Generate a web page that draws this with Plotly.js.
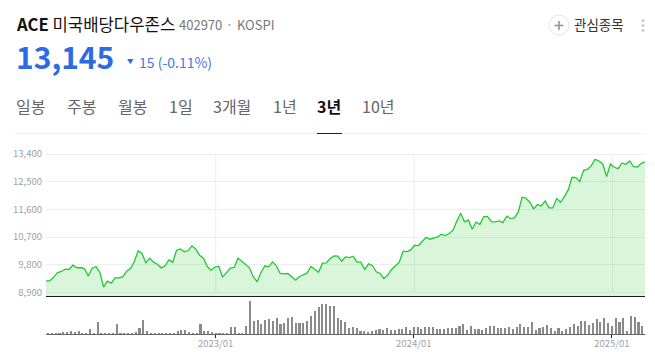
<!DOCTYPE html>
<html>
<head>
<meta charset="utf-8">
<script src="https://cdn.plot.ly/plotly-3.0.1.min.js"></script>
<style>html,body{margin:0;padding:0;background:#fff;overflow:hidden}#c{width:655px;height:352px}</style>
</head>
<body>
<div id="c"></div>
<script>
const prices = [9279,9279,9398,9549,9582,9657,9647,9787,9701,9712,9679,9441,9679,9744,9560,9073,9268,9203,9376,9376,9409,9592,9679,9906,10252,10166,9863,10014,9885,9820,9701,9766,9960,9885,10274,10317,10220,10263,10415,10307,10112,10014,9744,9625,9722,9755,
9398,9528,9690,9712,10014,9917,9798,9701,9398,9257,9549,9766,9733,9895,9766,9517,9506,9517,9409,9300,9419,9484,9528,9744,9636,9560,9852,9863,10004,10090,10079,9917,10058,10036,10079,9885,9885,9647,9831,9776,9571,9517,9354,9463,9647,9755,9885,10242,10231,10285,10436,10426,10555,10696,10631,10664,
10707,10794,10750,10815,10923,11226,11475,11194,11259,10956,11194,11107,11367,11367,11205,11194,11226,11172,11378,11302,11324,11518,11995,11962,11832,11616,11756,11713,11876,11648,11648,11951,11832,12016,12233,12644,12633,12503,12871,12903,13012,13228,13174,13077,12665,13077,12968,12925,13109,13066,13174,12990,12979,13087,13145];
const volumes = [2,2,2,3,7,7,9,6,9,4,4,16,4,35,4,4,3,3,29,4,3,2,4,7,18,43,10,2,4,3,2,2,2,2,10,13,12,6,4,4,29,8,10,5,3,3,
3,3,22,22,3,3,25,98,40,41,31,41,44,40,47,29,33,49,52,34,33,33,39,55,69,79,88,90,82,82,47,41,37,18,20,17,8,10,7,8,11,14,13,18,11,12,14,15,21,13,20,20,15,20,20,22,
16,16,14,19,18,19,24,30,13,24,16,15,12,17,25,25,19,19,19,20,15,22,31,22,20,36,13,19,22,27,18,9,18,9,16,22,30,25,39,39,27,32,46,37,49,32,25,48,37,48,10,55,52,36,24];
const priceTicks = [8900,9800,10700,11600,12500,13400];
const yearLabels = ['2023/01','2024/01','2025/01'];
const yearBarIndex = [44,96,148];
const yearPriceIndex = [44.2,95.9,147.5];
const tabs = ['일봉','주봉','월봉','1일','3개월','1년','3년','10년'];
const tabX = [17,68,119,170,214,274,318,363];
const FONT = '"Noto Sans CJK KR","Noto Sans",sans-serif';
const px = v => v/655, py = v => 1-v/352;
const note = (text,x,y,size,color,extra) => Object.assign({text:text,xref:'paper',yref:'paper',x:px(x-2),y:py(y-1.5),xanchor:'left',yanchor:'middle',showarrow:false,borderpad:0,font:{family:FONT,size:size,color:color}},extra||{});
const idx = a => a.map((_,i)=>i);

const annotations = [
  note('<b>ACE</b> 미국배당다우존스',17,25.5,16.7,'#111'),
  note('402970',180,26,13,'#777'),
  note('•',229,25,8,'#aaa'),
  note('KOSPI',237.5,26,13,'#777'),
  note('<b>13,145</b>',17,57,30,'#2b6be4'),
  note('▼',128,62,6.5,'#2b6be4'),
  note('15 (-0.11%)',140,64,14,'#4a78e0'),
  note('관심종목',575,25,13.5,'#333')
];
tabs.forEach((t,i)=>annotations.push(note(i===6?'<b>'+t+'</b>':t,tabX[i],108,16,i===6?'#111':'#666')));

const paperLine = (x0,y0,x1,y1,color,w) => ({type:'line',xref:'paper',yref:'paper',x0:px(x0),y0:py(y0),x1:px(x1),y1:py(y1),line:{color:color,width:w}});
const shapes = [
  paperLine(15,133.5,645,133.5,'#f0f0f0',1),
  paperLine(317,133.5,342,133.5,'#222',1),
  {type:'circle',xref:'paper',yref:'paper',x0:px(549),x1:px(569),y0:py(35),y1:py(15),line:{color:'#e2e4e8',width:1}},
  paperLine(554.5,25.5,563.5,25.5,'#8d93a3',1.6),
  paperLine(559,21,559,30,'#8d93a3',1.6)
];
[20.5,25.5,30.5].forEach(y=>shapes.push({type:'circle',xref:'paper',yref:'paper',x0:px(641.5),x1:px(644.5),y0:py(y+1.5),y1:py(y-1.5),fillcolor:'#c8cbd3',line:{width:0}}));
yearPriceIndex.forEach(v=>shapes.push({type:'line',layer:'below',xref:'x',yref:'y',x0:v,x1:v,y0:priceTicks[0],y1:priceTicks[priceTicks.length-1],line:{color:'#eeeeee',width:1}}));

const data = [
  {type:'scatter',mode:'lines',x:idx(prices),y:prices,xaxis:'x',yaxis:'y',fill:'tozeroy',fillcolor:'rgba(50,205,50,0.18)',line:{color:'#22c932',width:1.3},hoverinfo:'skip'},
  {type:'bar',x:idx(volumes),y:volumes,xaxis:'x2',yaxis:'y2',width:0.55,marker:{color:'#8a8a8a',line:{width:0}},hoverinfo:'skip'}
];
const layout = {
  width:655,height:352,autosize:false,showlegend:false,
  margin:{l:0,r:0,t:0,b:0,pad:0},paper_bgcolor:'#fff',plot_bgcolor:'rgba(0,0,0,0)',
  font:{family:FONT},
  xaxis:{domain:[px(46),px(645)],range:[0,156],anchor:'y',showgrid:false,zeroline:false,showticklabels:false,ticks:'',showline:true,linecolor:'#1a1a1a',linewidth:1.4},
  yaxis:{domain:[py(296),py(152)],range:[8786,13465],anchor:'x',tickmode:'array',tickvals:priceTicks,ticktext:priceTicks.map(v=>v.toLocaleString('en-US')),tickfont:{size:9.5,color:'#9a9fa8',family:FONT},ticks:'',showgrid:true,gridcolor:'#eeeeee',gridwidth:1,zeroline:false,showline:false,ticklabelstandoff:3},
  xaxis2:{domain:[px(46),px(645)],range:[-0.55,156.7],anchor:'y2',tickmode:'array',tickvals:yearBarIndex,ticktext:yearLabels,tickfont:{size:9.5,color:'#9a9fa8',family:FONT},ticks:'outside',ticklen:3,tickwidth:1,tickcolor:'#222',showgrid:false,zeroline:false,showline:true,linecolor:'#666',linewidth:1,ticklabelstandoff:-2},
  yaxis2:{domain:[py(334),py(297)],range:[0,110],anchor:'x2',visible:false},
  bargap:0,annotations:annotations,shapes:shapes
};
Plotly.newPlot('c',data,layout,{displayModeBar:false,staticPlot:true});
</script>
</body>
</html>
